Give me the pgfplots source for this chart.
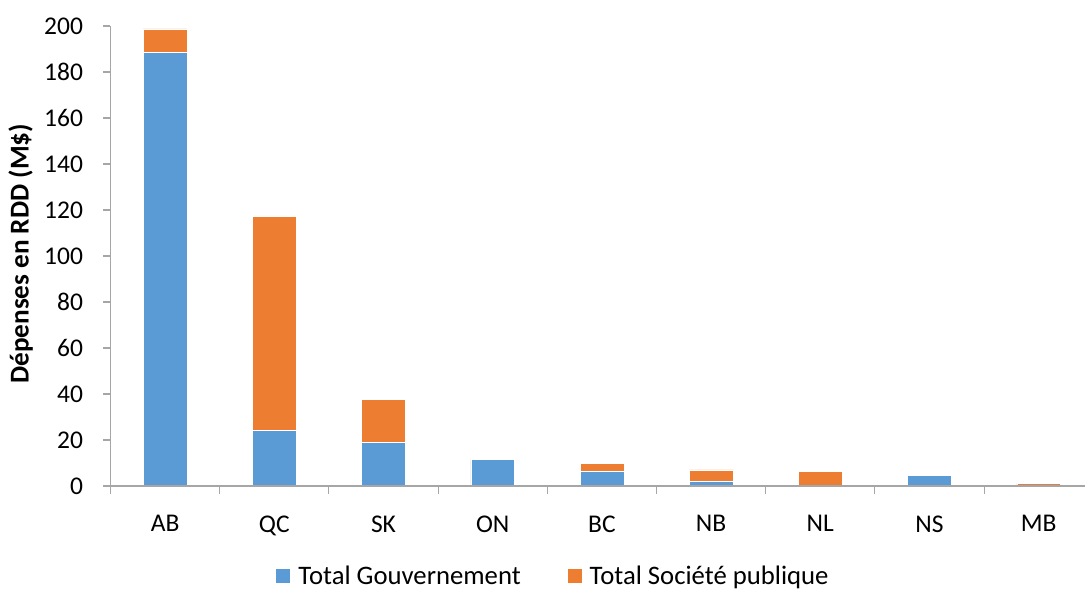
\documentclass[border=0pt]{standalone}
\usepackage{pgfplots}
\pgfplotsset{compat=1.18}
\usepackage{fontspec}
\setmainfont{Carlito}

\definecolor{govblue}{HTML}{5B9BD5}
\definecolor{puborange}{HTML}{ED7D31}
\definecolor{axisgray}{HTML}{A6A6A6}

\pgfplotstableread{
idx gouv societe
0 188.4 10.3
1 24.2 93.1
2 19.0 18.5
3 11.6 0
4 6.4 3.5
5 2.0 5.0
6 0 6.5
7 4.6 0
8 0.5 0.8
}\rdddata

\begin{document}
\begin{tikzpicture}
\begin{axis}[
  scale only axis,
  width=974.5pt, height=460pt,
  xmin=-0.5, xmax=8.424,
  ymin=0, ymax=200,
  ybar stacked, bar width=43.7pt,
  axis x line*=bottom, axis y line*=left,
  axis line style={draw=axisgray, line width=1.1pt, -},
  xtick={0,...,8},
  xticklabels={AB,QC,SK,ON,BC,NB,NL,NS,MB},
  xtick style={draw=none},
  extra x ticks={-0.5,0.5,...,7.5},
  extra x tick labels={},
  extra x tick style={xtick style={draw=axisgray, line width=1.1pt}, major tick length=8pt, tick align=outside},
  ytick={0,20,...,200},
  ytick style={draw=axisgray, line width=1.1pt},
  tick align=outside, major tick length=7pt,
  /pgf/number format/assume math mode=true,
  tick label style={font=\fontsize{25.5}{30}\selectfont, text=black},
  xticklabel style={yshift=-19pt},
  yticklabel style={xshift=-17pt},
  ylabel={Dépenses en RDD (M\$)},
  ylabel style={font=\bfseries\fontsize{27.2}{32}\selectfont,
    at={(rel axis cs:-0.0795,0.505)}, anchor=south, inner sep=0pt},
  legend columns=4,
  legend style={at={(rel axis cs:0.4546,-0.196)}, anchor=center, draw=none,
    font=\fontsize{26.7}{30}\selectfont,
    /tikz/column 1/.style={column sep=6pt},
    /tikz/column 2/.style={column sep=45pt},
    /tikz/column 3/.style={column sep=6pt}},
  legend image code/.code={\fill[#1, draw=none] (0pt,-7pt) rectangle (14pt,7pt);},
  axis on top,
]
\addplot[fill=govblue, draw=white, line width=0.5pt] table[x=idx, y=gouv] {\rdddata};
\addplot[fill=puborange, draw=white, line width=0.5pt] table[x=idx, y=societe] {\rdddata};
\legend{Total Gouvernement, Total Société publique}
\coordinate (O) at (rel axis cs:0,0);
\end{axis}
\pgfresetboundingbox
\path (O) ++(-110.5pt,-103pt) rectangle ++(1085pt,589pt);
\end{tikzpicture}
\end{document}
